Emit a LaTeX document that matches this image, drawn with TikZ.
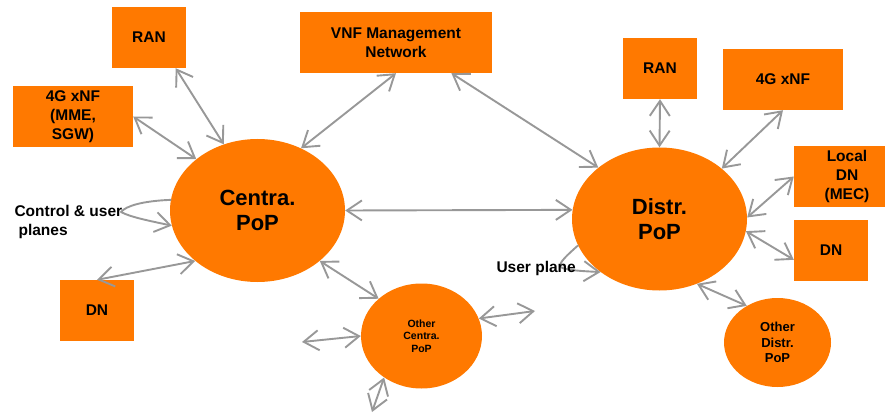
\documentclass[tikz,border=0pt]{standalone}
\usepackage{fontspec}
\setmainfont{Liberation Sans}
\usetikzlibrary{arrows.meta,shapes.geometric}
\definecolor{poporange}{RGB}{255,121,0}
\definecolor{linkgray}{RGB}{152,152,152}
\begin{document}
\begin{tikzpicture}[x=1pt,y=-1pt,
  box/.style={rectangle, fill=poporange, draw=none, minimum width=#1, minimum height=61pt,
    inner sep=0pt, align=center, font=\fontsize{15.5}{19}\selectfont\bfseries},
  box/.default=74pt,
  pop/.style={ellipse, fill=poporange, draw=none, inner sep=0pt, align=center},
  bigpop/.style={pop, minimum width=175pt, minimum height=143pt,
    font=\fontsize{22}{25}\selectfont\bfseries},
  barb/.tip={Straight Barb[length=15pt,width=20pt]},
  link/.style={draw=linkgray, line width=1.9pt, line cap=round, line join=round, barb-barb},
  selflink/.style={draw=linkgray, line width=1.9pt, line cap=round, line join=round, -barb},
  note/.style={anchor=west, align=left, font=\fontsize{15.5}{19}\selectfont\bfseries},
]
\useasboundingbox (0,0) rectangle (885,414);
\clip (0,0) rectangle (885,414);

% central site and its neighbours
\node[bigpop] (cpop) at (257.5,210.5) {Centra.\\PoP};
\node[box] (ranL) at (149,37.5) {RAN};
\node[box=120pt] (xnfL) at (73,116.5) {4G xNF\\(MME,\\SGW)};
\node[box] (dnL) at (97,310.5) {DN};
\node[box=192pt] (vnf) at (396,42.5) {VNF Management\\Network};
\node[pop, minimum width=121pt, minimum height=105pt,
  font=\fontsize{10.5}{12.7}\selectfont\bfseries] (ocpop) at (421.5,336) {Other\\Centra.\\PoP};

% distributed site and its neighbours
\node[bigpop] (dpop) at (659.5,219) {Distr.\\PoP};
\node[box] (ranR) at (660,68.5) {RAN};
\node[box=120pt] (xnfR) at (783,79.5) {4G xNF};
\node[box=106pt] (ldn) at (847,176.5) {Local\\DN\\(MEC)};
\node[box] (dnR) at (831,250.5) {DN};
\node[pop, minimum width=107pt, minimum height=89pt,
  font=\fontsize{13}{15.7}\selectfont\bfseries] (odpop) at (777.5,342.5) {Other\\Distr.\\PoP};

% open ends of the links leaving the other central site
\coordinate (ocL) at (302,342);
\coordinate (ocR) at (535,311);
\coordinate (ocD) at (372,412);

% links
\draw[link] (ranL.-49.5) -- (cpop.117.8);
\draw[link] (xnfL.east) -- (cpop.140.5);
\draw[link] (dnL.north) -- (cpop.219.5);
\draw[link] (vnf.south) -- (cpop.55.8);
\draw[link] (vnf.-29.5) -- (dpop.140.2);
\draw[link] (cpop.east) -- (dpop.174);
\draw[link] (cpop.-39.1) -- (ocpop.139.1);
\draw[link] (ocL) -- (ocpop.west);
\draw[link] (ocpop.17.2) -- (ocR);
\draw[link] (ocpop.228.9) -- (ocD);
\draw[link] (ranR.south) -- (dpop.north);
\draw[link] (xnfR.south) -- (dpop.39.8);
\draw[link] (ldn.west) -- (dpop.1);
\draw[link] (dnR.194.4) -- (dpop.-8);
\draw[link] (dpop.-60.2) -- (odpop.130.4);

% traffic planes looping back into each site
\draw[selflink] (cpop.173) .. controls (142,201) and (126,206) .. (121,212)
  .. controls (130,217) and (150,221) .. (cpop.190);
\draw[selflink] (dpop.198.3) .. controls (566,256) and (560,262) .. (560,266)
  .. controls (561,270) and (580,271) .. (dpop.222);

\node[note] (cuplanes) at (11,222) {Control \& user\\\hspace*{4pt}planes};
\node[note] (uplane) at (493,268) {User plane};
\end{tikzpicture}
\end{document}
